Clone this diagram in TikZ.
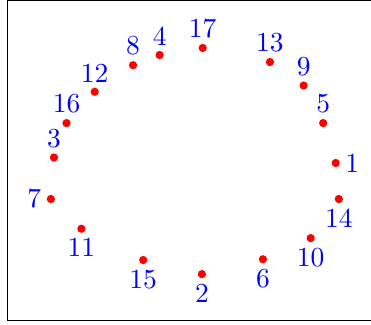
\documentclass[tikz,border=0pt]{standalone}
\usepackage{tikz}

\begin{document}
\begin{tikzpicture}[dot/.style={circle, fill=red, inner sep=0pt, minimum size=3pt},
                    lbl/.style={text=blue}]
  \useasboundingbox (0,0) rectangle (4.741,4.153);
  % marco
  \draw (0.10,0.055) rectangle (5.0,4.147);
  % puntos arriba
  \node[dot] (p17) at (2.59,3.54) {}; \node[lbl, above] (l17) at (p17) {17};
  \node[dot] (p4)  at (2.04,3.45) {}; \node[lbl, above] (l4)  at (p4)  {4};
  \node[dot] (p8)  at (1.70,3.32) {}; \node[lbl, above] (l8)  at (p8)  {8};
  \node[dot] (p13) at (3.45,3.36) {}; \node[lbl, above] (l13) at (p13) {13};
  \node[dot] (p9)  at (3.88,3.06) {}; \node[lbl, above] (l9)  at (p9)  {9};
  \node[dot] (p12) at (1.21,2.98) {}; \node[lbl, above] (l12) at (p12) {12};
  \node[dot] (p5)  at (4.13,2.58) {}; \node[lbl, above] (l5)  at (p5)  {5};
  \node[dot] (p16) at (0.85,2.58) {}; \node[lbl, above] (l16) at (p16) {16};
  \node[dot] (p3)  at (0.69,2.14) {}; \node[lbl, above] (l3)  at (p3)  {3};
  % puntos a los lados
  \node[dot] (p1)  at (4.29,2.07) {}; \node[lbl, right] (l1)  at (p1)  {1};
  \node[dot] (p7)  at (0.65,1.61) {}; \node[lbl, left]  (l7)  at (p7)  {7};
  % puntos abajo
  \node[dot] (p14) at (4.33,1.61) {}; \node[lbl, below] (l14) at (p14) {14};
  \node[dot] (p10) at (3.97,1.11) {}; \node[lbl, below] (l10) at (p10) {10};
  \node[dot] (p11) at (1.04,1.23) {}; \node[lbl, below] (l11) at (p11) {11};
  \node[dot] (p6)  at (3.36,0.84) {}; \node[lbl, below] (l6)  at (p6)  {6};
  \node[dot] (p15) at (1.83,0.83) {}; \node[lbl, below] (l15) at (p15) {15};
  \node[dot] (p2)  at (2.58,0.65) {}; \node[lbl, below] (l2)  at (p2)  {2};
\end{tikzpicture}
\end{document}
